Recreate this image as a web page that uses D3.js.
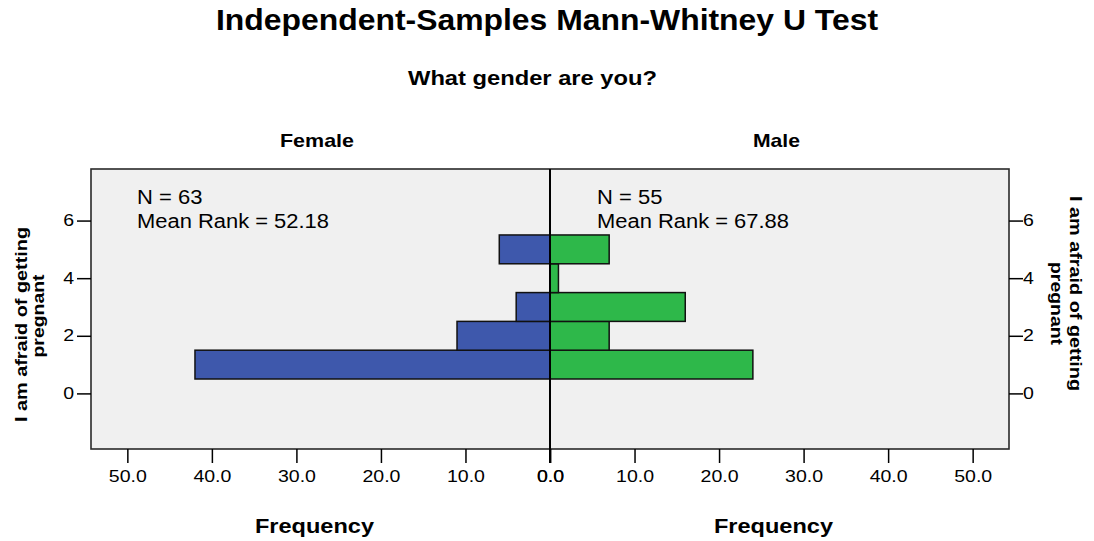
<!DOCTYPE html>
<html><head><meta charset="utf-8">
<script src="https://cdn.jsdelivr.net/npm/d3@7"></script>
<style>body{margin:0;background:#fff;} text{font-family:"Liberation Sans",Arial,sans-serif;fill:#000;}</style>
</head><body>
<svg id="c" width="1094" height="541"></svg>
<script>
const categories = [1, 2, 3, 4, 5];
const femaleCounts = [42, 11, 4, 0, 6];
const maleCounts = [24, 7, 16, 1, 7];
const xTicks = [0, 10, 20, 30, 40, 50];
const yTicks = [0, 2, 4, 6];
const groups = ["Female", "Male"];
const stats = [{n: 63, rank: "52.18"}, {n: 55, rank: "67.88"}];
const yTitleLines = ["I am afraid of getting", "pregnant"];

const svg = d3.select("#c");
const L = 91, R = 1009, T = 169, B = 449, C = 550;
const xMax = 54.3;
const xLeft = d3.scaleLinear().domain([0, xMax]).range([C, L]);
const xRight = d3.scaleLinear().domain([0, xMax]).range([C, R]);
const y = d3.scaleLinear().domain([-1.93, 7.79]).range([B, T]);

function fit(sel, w) { return sel.attr("textLength", w).attr("lengthAdjust", "spacingAndGlyphs"); }
function stretch(sel, f) {
  sel.each(function () {
    const w = this.getComputedTextLength();
    d3.select(this).attr("textLength", w * f).attr("lengthAdjust", "spacingAndGlyphs");
  });
}

svg.append("rect").attr("x", L).attr("y", T).attr("width", R - L).attr("height", B - T)
  .attr("fill", "#f0f0f0").attr("stroke", "#2a2a2a").attr("stroke-width", 1.6);

// bars
const bh = y(0) - y(1);
svg.selectAll(".fb").data(categories).enter().append("rect")
  .attr("x", (d, i) => xLeft(femaleCounts[i]))
  .attr("y", d => y(d + 0.5))
  .attr("width", (d, i) => C - xLeft(femaleCounts[i]))
  .attr("height", bh)
  .attr("fill", "#3e58ac").attr("stroke", "#111").attr("stroke-width", 1.5)
  .style("display", (d, i) => femaleCounts[i] > 0 ? null : "none");
svg.selectAll(".mb").data(categories).enter().append("rect")
  .attr("x", C)
  .attr("y", d => y(d + 0.5))
  .attr("width", (d, i) => xRight(maleCounts[i]) - C)
  .attr("height", bh)
  .attr("fill", "#2eb84a").attr("stroke", "#111").attr("stroke-width", 1.5)
  .style("display", (d, i) => maleCounts[i] > 0 ? null : "none");

// center line
svg.append("line").attr("x1", C).attr("x2", C).attr("y1", T).attr("y2", B + 14)
  .attr("stroke", "#000").attr("stroke-width", 2);

// axes
const fmt = d3.format(".1f");
function styleAxis(g) {
  g.select(".domain").remove();
  g.selectAll(".tick line").attr("stroke", "#000").attr("stroke-width", 1.5);
  g.selectAll(".tick text").style("font-size", "16px").attr("fill", "#000").call(stretch, 1.22);
}
svg.append("g").attr("transform", `translate(0,${B})`)
  .call(d3.axisBottom(xLeft).tickValues(xTicks).tickFormat(fmt).tickSize(14).tickPadding(8)).call(styleAxis);
svg.append("g").attr("transform", `translate(0,${B})`)
  .call(d3.axisBottom(xRight).tickValues(xTicks).tickFormat(fmt).tickSize(14).tickPadding(8)).call(styleAxis);
svg.append("g").attr("transform", `translate(${L},0)`)
  .call(d3.axisLeft(y).tickValues(yTicks).tickFormat(d3.format("d")).tickSize(14).tickPadding(3)).call(styleAxis);
svg.append("g").attr("transform", `translate(${R},0)`)
  .call(d3.axisRight(y).tickValues(yTicks).tickFormat(d3.format("d")).tickSize(14).tickPadding(0)).call(styleAxis);

// titles
svg.append("text").attr("x", 216).attr("y", 30)
  .style("font-size", "29px").style("font-weight", "bold").text("Independent-Samples Mann-Whitney U Test").call(fit, 662);
svg.append("text").attr("x", 408).attr("y", 85)
  .style("font-size", "21px").style("font-weight", "bold").text("What gender are you?").call(fit, 249);
const gx = [280, 753], gw = [74, 47];
groups.forEach((g, i) => {
  svg.append("text").attr("x", gx[i]).attr("y", 147)
    .style("font-size", "19px").style("font-weight", "bold").text(g).call(fit, gw[i]);
});
[255, 714].forEach(x => {
  svg.append("text").attr("x", x).attr("y", 533)
    .style("font-size", "21px").style("font-weight", "bold").text("Frequency").call(fit, 119);
});
// stats
const sx = [137, 597];
stats.forEach((s, i) => {
  svg.append("text").attr("x", sx[i]).attr("y", 204).style("font-size", "20px").text("N = " + s.n).call(stretch, 1.1);
  svg.append("text").attr("x", sx[i]).attr("y", 228).style("font-size", "20px").text("Mean Rank = " + s.rank).call(fit, 192);
});
// y titles
const yw = [195, 83];
[[27, 324.5], [44, 316]].forEach(([x, cy], i) => {
  svg.append("text").attr("transform", `translate(${x},${cy}) rotate(-90)`).attr("text-anchor", "middle")
    .style("font-size", "17px").style("font-weight", "bold").text(yTitleLines[i]).call(fit, yw[i]);
});
[[1070, 293.5], [1051, 303.5]].forEach(([x, cy], i) => {
  svg.append("text").attr("transform", `translate(${x},${cy}) rotate(90)`).attr("text-anchor", "middle")
    .style("font-size", "17px").style("font-weight", "bold").text(yTitleLines[i]).call(fit, yw[i]);
});
</script>
</body></html>
